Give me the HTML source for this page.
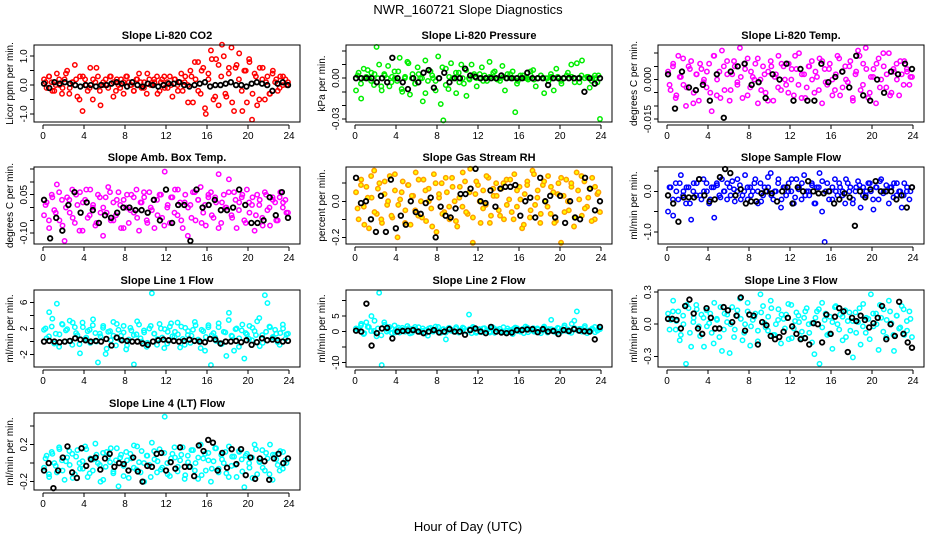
<!DOCTYPE html>
<html><head><meta charset="utf-8"><style>
html,body{margin:0;padding:0;background:#fff;}
svg{display:block;font-family:"Liberation Sans",sans-serif;}
</style></head><body>
<svg id="chart" width="936" height="540" viewBox="0 0 936 540" xmlns="http://www.w3.org/2000/svg">
<text x="468" y="14" text-anchor="middle" font-size="13">NWR_160721  Slope Diagnostics</text>
<text x="468" y="531" text-anchor="middle" font-size="13">Hour of Day (UTC)</text>
</svg>
<script>
const panelTitles=["Slope Li-820 CO2","Slope Li-820 Pressure","Slope Li-820 Temp.","Slope Amb. Box Temp.","Slope Gas Stream RH","Slope Sample Flow","Slope Line 1 Flow","Slope Line 2 Flow","Slope Line 3 Flow","Slope Line 4 (LT) Flow"];
const yTitles=["Licor ppm per min.","kPa per min.","degrees C per min.","degrees C per min.","percent per min.","ml/min per min.","ml/min per min.","ml/min per min.","ml/min per min.","ml/min per min."];
const xTicks=[0,4,8,12,16,20,24];
const co2=[0.2,-0.1,0.3,0.1,-0.2,0.4,0.0,-0.3,0.2,0.5,-0.1,0.1,0.7,-0.4,0.3,-0.9,0.2,-0.2,0.6,-0.5,0.1,0.3,-0.7,0.0,0.2,-0.1,0.3,0.1,-0.2,0.0,0.2,-0.3,0.3,0.1,0.0,-0.2,0.2,0.4,-0.1,0.1,-0.3,0.2,0.0,0.1,0.3,-0.2,0.2,-0.1,0.1,0.3,-0.4,0.2,0.0,0.1,-0.2,0.3,0.0,0.5,-0.6,0.2,0.8,-0.3,0.6,-1.0,0.4,1.2,-0.5,0.9,-0.7,0.3,1.0,-0.4,0.6,1.3,-0.9,0.7,1.1,-0.2,0.5,-0.6,0.8,-1.2,0.4,-0.7,0.6,0.2,-0.5,0.3,-0.3,0.4,0.1,-0.2,0.3,0.0,0.2,0.1];
const co2b=[0.1,0.3,-0.2,0.0,0.2,-0.1,0.4,-0.3,0.1,0.2,-0.5,0.3,0.0,-0.1,0.2,0.6,-0.2,0.1,0.0,0.3,-0.4,0.2,-0.1,0.1,0.3,0.0,-0.2,0.2,0.1,-0.1,0.4,0.0,0.2,-0.3,0.1,0.3,-0.1,0.0,0.2,-0.2,0.4,0.1,-0.6,0.3,0.8,-0.2,0.5,-0.8,0.2,0.9,-0.4,0.7,1.4,-0.3,0.4,-0.6,0.6,0.2,-0.9,0.5,0.9,-0.3,0.3,-0.5,0.6,0.1,-0.3,0.5,0.2,-0.1,0.3,0.0];
const co2Blk=[0.05,-0.1,0.1,0.05,0.1,0.05,0.0,-0.05,0.0,0.0,-0.05,0.0,0.0,0.05,0.1,0.05,-0.05,0.1,0.0,-0.05,0.05,0.0,-0.05,0.0,0.05,0.05,0.1,0.0,-0.05,0.0,0.05,0.1,-0.05,0.0,0.0,0.05,0.1,0.0,0.0,-0.05,0.05,0.1,0.05,0.0,-0.2,0.05,0.1,0.0];
const pres=[-0.009,0.004,-0.015,0.007,0.001,0.0,0.004,-0.005,0.023,0.01,-0.009,0.003,0.0,-0.006,0.001,0.005,-0.002,0.015,-0.01,0.0,0.012,-0.012,0.003,-0.004,0.008,0.0,-0.017,0.013,-0.002,0.005,0.0,-0.009,0.016,-0.019,-0.031,0.007,-0.008,0.011,0.0,-0.011,0.004,0.01,-0.004,-0.013,0.0,0.01,0.003,-0.006,0.0,0.008,0.002,-0.002,0.012,0.0,0.005,-0.001,0.0,0.009,-0.009,0.003,0.0,0.005,-0.025,-0.002,0.0,0.002,0.0,-0.001,0.002,0.006,-0.006,0.0,0.002,0.0,0.0,-0.002,0.001,-0.009,0.007,0.0,-0.004,0.0,0.002,0.0,0.001,0.0,0.011,-0.003,0.013,0.0,0.001,-0.007,0.0,0.002,-0.003,-0.03];
const presb=[0.002,-0.004,0.0,0.006,-0.002,0.003,0.0,-0.006,0.002,0.009,-0.003,0.0,0.005,-0.008,0.001,0.011,0.0,-0.004,0.003,0.0,-0.011,0.006,0.002,-0.002,0.0,0.008,-0.005,0.001,0.0,0.004,-0.003,0.0,0.006,-0.001,0.002,0.0,0.003,-0.002,0.0,0.001,0.004,0.0,-0.002,0.001,0.0,0.003,0.0,-0.004,0.002,0.0,0.0,0.005,-0.001,0.0,0.002,-0.011,0.0,0.003,0.0,0.001,-0.002,0.0,0.004,0.010,-0.003,0.0,0.002,0.0,0.001,-0.002,0.0,0.002];
const presBlk=[0.0,0.0,0.0,0.0,-0.003,0.0,-0.003,0.015,0.0,-0.003,-0.008,0.0,-0.003,0.004,0.006,-0.007,0.0,0.004,-0.003,0.0,0.0,0.007,0.002,0.001,0.0,0.0,0.0,0.0,0.002,0.0,0.0,0.0,0.0,0.004,0.0,0.0,0.0,-0.005,0.0,0.0,0.0,0.0,0.0,0.0,-0.01,0.0,-0.004,0.0];
const temp=[0.003,-0.004,0.006,-0.007,0.009,0.001,-0.002,-0.01,0.005,0.007,-0.005,0.002,-0.008,0.004,0.0,-0.003,0.006,-0.012,0.009,-0.006,0.003,0.011,-0.004,0.007,-0.008,0.002,0.005,-0.001,0.012,-0.007,0.004,0.008,-0.003,0.001,0.006,-0.009,0.0,0.005,-0.005,0.003,0.007,-0.008,0.002,0.009,-0.004,0.005,-0.002,0.006,0.0,-0.006,0.004,0.01,-0.007,0.002,-0.003,0.005,0.007,-0.005,0.001,0.008,-0.009,0.004,-0.002,0.006,0.0,-0.004,0.009,-0.006,0.003,0.005,-0.001,0.007,-0.008,0.002,0.011,-0.004,0.006,0.012,-0.007,0.001,0.004,-0.009,0.008,0.0,0.005,-0.003,0.01,-0.005,0.003,0.006,-0.006,0.002,0.007,0.004,-0.002,0.001];
const tempb=[-0.002,0.005,-0.006,0.001,0.008,-0.003,0.004,-0.009,0.002,0.006,-0.001,0.003,-0.005,0.009,0.0,-0.007,0.005,0.002,-0.004,0.007,-0.002,0.001,0.006,-0.006,0.003,0.0,0.008,-0.004,0.002,-0.008,0.005,0.001,-0.003,0.006,0.0,-0.005,0.004,0.009,-0.002,0.002,-0.007,0.005,0.0,0.003,-0.004,0.007,-0.001,0.004,-0.006,0.002,0.008,-0.003,0.0,0.005,-0.007,0.003,0.009,-0.002,0.004,-0.005,0.001,0.006,-0.003,0.010,0.002,-0.006,0.004,0.0,0.007,-0.002,0.003,0.001];
const tempBlk=[0.002,-0.011,0.003,-0.003,-0.004,-0.002,-0.008,0.002,-0.0145,0.003,0.005,0.006,-0.002,-0.001,-0.007,0.002,0.0,0.006,-0.008,0.004,-0.008,-0.008,0.006,-0.001,0.001,0.003,-0.003,0.009,-0.006,-0.008,0.0,-0.005,0.003,0.002,0.006,0.004];
const amb=[-0.03,0.02,-0.08,0.05,-0.01,0.09,-0.05,0.03,-0.13,0.04,-0.02,0.07,-0.06,0.01,0.06,-0.09,0.03,-0.04,0.07,0.0,-0.07,0.05,-0.02,-0.11,0.04,0.08,-0.05,0.02,-0.03,0.06,-0.08,0.03,0.0,-0.06,0.05,-0.02,0.07,-0.09,0.02,0.04,-0.05,0.06,-0.01,-0.08,0.03,0.05,-0.04,0.14,0.0,-0.06,0.04,0.07,-0.03,0.02,-0.08,0.05,-0.11,0.01,0.06,-0.05,0.03,0.08,-0.02,-0.07,0.04,0.06,-0.04,0.02,0.13,-0.06,0.05,0.0,0.11,-0.03,0.06,-0.08,0.02,0.04,-0.05,0.07,-0.02,0.01,-0.09,0.05,0.03,-0.04,0.06,-0.01,-0.07,0.04,0.02,-0.05,0.06,0.0,0.03,-0.02];
const ambb=[0.01,-0.05,0.04,-0.02,0.06,-0.07,0.0,0.03,-0.04,0.05,-0.09,0.02,0.07,-0.03,0.01,-0.06,0.04,0.0,-0.02,0.06,-0.05,0.03,0.01,-0.08,0.05,-0.01,0.04,-0.04,0.02,0.06,-0.06,0.0,0.03,-0.03,0.05,-0.07,0.01,0.04,-0.02,0.07,-0.05,0.02,0.0,-0.04,0.06,0.03,-0.06,0.01,0.05,-0.03,0.04,-0.08,0.02,0.0,0.06,-0.04,0.03,-0.01,0.05,-0.06,0.02,0.04,-0.03,0.01,-0.07,0.05,0.0,0.03,-0.05,0.04,0.02,-0.02];
const ambBlk=[0.03,-0.12,-0.04,-0.09,0.01,0.06,-0.02,0.02,-0.01,-0.06,-0.03,-0.04,-0.02,0.0,0.0,-0.01,-0.01,-0.02,0.03,-0.05,0.07,-0.06,0.01,0.01,-0.13,0.07,0.0,0.01,0.03,-0.01,-0.01,0.0,0.07,0.01,-0.06,-0.06,-0.05,0.04,-0.03,0.06,-0.04];
const rh=[0.05,-0.1,0.12,-0.03,0.08,-0.15,0.02,0.17,-0.07,0.1,-0.12,0.04,-0.02,0.14,-0.09,0.06,-0.2,0.01,0.11,-0.05,0.09,-0.13,0.03,0.16,-0.08,0.0,0.12,-0.11,0.07,-0.04,0.15,-0.17,0.02,0.1,-0.06,0.05,-0.1,0.13,0.0,-0.14,0.08,-0.03,0.11,-0.07,0.18,-0.23,0.04,0.09,-0.12,0.06,-0.02,0.13,-0.08,0.03,0.1,-0.05,0.07,-0.1,0.12,0.01,-0.06,0.15,-0.03,0.08,-0.15,0.04,0.11,-0.09,0.17,-0.02,0.06,-0.12,0.09,0.0,0.14,-0.07,0.05,-0.11,0.1,-0.23,0.03,0.12,-0.05,0.08,-0.14,0.16,0.01,-0.08,0.11,-0.03,0.07,0.13,-0.1,0.04,-0.06];
const rhb=[-0.04,0.09,-0.13,0.02,0.14,-0.06,0.07,-0.1,0.11,0.0,-0.08,0.15,-0.02,0.05,-0.12,0.09,0.03,-0.05,0.12,-0.09,0.06,0.0,-0.14,0.1,0.04,-0.07,0.13,-0.03,0.08,-0.11,0.02,0.16,-0.06,0.05,-0.09,0.11,0.0,-0.04,0.14,-0.12,0.07,0.03,-0.08,0.1,-0.02,0.12,-0.1,0.06,0.01,-0.13,0.09,-0.05,0.15,0.02,-0.07,0.11,-0.03,0.08,-0.12,0.04,0.13,-0.06,0.0,0.1,-0.09,0.06,0.14,-0.04,0.02,-0.11,0.08,0.05];
const rhBlk=[0.13,-0.01,0.0,-0.1,-0.17,0.03,-0.17,0.12,-0.15,-0.08,-0.13,0.0,-0.06,-0.07,-0.01,0.02,-0.2,-0.03,-0.08,-0.09,-0.04,0.04,0.04,0.07,0.18,0.0,-0.01,0.06,-0.03,0.07,0.08,0.08,0.09,-0.08,0.0,0.02,-0.09,0.13,0.0,0.03,-0.09,0.03,-0.12,0.0,-0.09,-0.1,0.13,0.07,-0.05,0.0];
const flow=[-0.5,0.1,-0.6,0.2,-0.2,0.4,0.0,-0.3,0.1,-0.7,0.2,-0.1,0.3,-0.2,0.0,0.2,-0.3,0.1,-0.65,0.2,-0.1,0.3,0.0,-0.2,0.1,0.25,-0.25,0.0,0.15,-0.1,0.4,-0.2,0.1,0.0,0.3,-0.3,0.2,-0.1,0.0,0.1,0.45,-0.2,0.0,0.3,-0.4,0.1,-0.1,0.2,0.0,-0.3,0.3,0.1,-0.2,0.4,0.0,-0.1,0.2,-0.3,0.1,0.45,-0.5,-1.25,0.2,0.0,-0.2,0.3,-0.1,0.1,0.0,-0.3,0.2,0.1,-0.2,0.0,0.25,-0.4,0.1,-0.1,0.2,0.0,-0.45,0.1,-0.2,0.3,0.0,0.15,-0.3,0.1,0.2,-0.1,0.0,-0.4,0.2,0.0,-0.2,0.1];
const flowb=[0.1,-0.2,0.0,0.2,-0.1,0.1,-0.3,0.0,0.2,-0.1,0.3,0.0,-0.2,0.1,0.15,-0.15,0.0,0.2,-0.1,0.05,0.3,-0.2,0.0,0.1,-0.1,0.2,0.0,-0.25,0.1,0.35,-0.1,0.0,0.2,-0.2,0.1,0.0,0.3,-0.15,0.05,0.2,-0.1,0.0,0.15,-0.3,0.1,0.25,0.0,-0.2,0.1,0.0,0.2,-0.1,0.3,0.0,-0.3,0.1,0.15,-0.1,0.0,0.2,-0.2,0.1,0.25,-0.05,0.0,0.1,-0.15,0.2,0.0,-0.1,0.1,0.0];
const flowBlk=[-0.1,-0.3,-0.75,-0.15,-0.15,-0.15,0.3,-0.1,-0.25,-0.2,0.35,0.55,0.45,-0.1,0.05,-0.3,-0.25,-0.25,-0.05,0.0,-0.05,-0.25,0.0,0.1,-0.3,0.1,0.0,0.25,0.0,-0.05,-0.05,0.0,-0.3,-0.2,-0.05,-0.15,-0.85,0.0,-0.15,0.05,0.25,0.0,0.0,0.0,-0.2,-0.1,-0.4,0.1];
const line1=[1.8,0.5,4.5,2.3,-0.3,5.8,1.1,2.7,0.0,1.9,3.2,-0.5,2.2,1.0,-1.8,2.9,0.4,1.6,-0.2,2.5,1.3,-3.2,0.8,2.1,-1.9,1.5,0.2,3.0,-0.6,1.8,0.9,2.4,-1.2,0.3,1.7,-3.5,1.1,2.6,0.0,1.4,-0.8,2.0,7.4,1.2,-0.5,2.7,0.6,1.9,-0.3,2.3,0.8,1.5,2.9,-0.9,0.4,2.1,1.0,-0.2,1.8,2.5,0.3,-1.0,1.6,0.7,2.2,-3.6,1.3,0.1,2.8,-0.4,1.5,-2.2,4.4,0.9,-1.4,2.0,0.5,1.7,-2.6,1.1,2.4,0.2,1.6,3.1,-0.7,1.0,7.1,5.9,2.2,0.6,1.8,-0.1,1.3,2.6,0.4,1.2];
const line1b=[2.0,0.8,3.5,1.2,-0.8,2.6,1.7,0.1,2.9,1.3,-0.4,2.2,0.6,1.8,3.4,0.0,1.2,2.4,-1.1,1.6,0.9,2.7,0.3,1.4,-0.6,2.1,1.0,3.1,0.5,1.7,-0.2,2.4,1.2,0.4,2.0,-1.0,1.5,2.8,0.7,1.1,2.3,-0.5,1.6,0.9,3.0,0.2,1.8,-1.4,2.5,1.0,0.6,2.2,-0.3,1.4,3.3,0.8,1.9,-0.8,2.6,1.3,0.4,2.1,1.0,3.6,-0.2,1.5,2.3,0.7,1.2,-0.5,2.0,1.1];
const line1Blk=[0.0,0.1,0.0,-0.1,0.0,0.1,0.5,0.3,0.2,0.0,0.1,0.0,0.4,-0.6,0.6,0.2,0.1,0.0,0.0,-0.3,-0.5,0.0,0.2,0.3,0.2,0.1,0.0,0.1,0.3,0.1,0.0,-0.1,0.4,0.3,-0.3,0.0,0.0,0.1,-0.1,0.2,-0.5,-0.1,0.5,0.2,0.3,0.2,0.0,0.1];
const line2=[1.0,0.5,2.5,-0.8,3.0,1.5,5.0,0.2,-1.5,12.5,-10.8,3.0,0.0,1.5,-0.5,2.0,0.8,-0.3,1.2,0.0,1.8,-0.6,0.9,1.5,0.3,-0.2,1.0,0.5,-1.3,1.2,0.0,0.7,1.5,-0.4,0.8,-2.5,1.1,0.3,0.0,1.4,-0.3,0.6,1.0,0.2,5.5,-0.5,1.2,0.0,0.8,-0.2,1.1,0.4,0.0,1.5,-0.4,0.6,0.9,0.1,-0.3,1.0,0.5,-0.8,1.3,0.2,0.0,0.9,1.6,-0.2,0.5,1.1,0.0,0.7,-0.5,1.2,0.3,0.8,3.8,0.0,-0.3,1.0,0.6,1.4,0.2,-0.1,2.5,3.5,6.5,0.9,0.0,1.2,-0.5,0.4,1.0,1.5,0.3,0.8];
const line2b=[0.8,2.0,-0.5,1.5,0.2,3.5,1.0,-1.2,2.2,0.5,1.0,-0.3,1.3,0.6,0.0,1.1,-0.4,0.8,1.4,0.2,-0.6,1.0,0.4,1.6,0.0,0.7,-0.3,1.2,0.5,0.9,-0.2,1.3,0.1,0.8,1.5,-0.4,0.6,1.0,0.2,-0.3,1.2,0.7,0.0,1.4,0.3,-0.2,0.9,1.1,0.4,-0.5,1.3,0.6,0.0,1.0,0.3,1.6,-0.3,0.8,0.5,1.2,0.0,2.0,0.7,-0.4,1.1,0.3,0.9,1.8,0.2,0.6,-0.2,1.0];
const line2Blk=[0.3,0.0,9.0,-4.5,-0.5,1.0,1.2,-2.2,0.0,0.2,0.3,0.5,0.0,-0.5,0.0,0.5,-0.3,0.0,0.8,0.0,0.0,-1.0,0.5,1.0,0.0,-0.5,1.5,0.0,-0.3,-0.5,-0.3,0.5,0.5,0.7,0.8,-0.2,0.8,0.0,0.2,-0.8,0.5,0.2,0.8,0.3,0.1,0.0,-2.5,1.5];
const line3=[0.1,0.04,0.22,-0.05,0.12,-0.1,0.0,-0.37,0.15,-0.21,0.06,0.18,-0.02,0.09,-0.21,0.13,0.01,-0.08,0.2,0.05,-0.12,-0.25,0.1,0.02,-0.27,0.16,-0.05,0.08,0.24,-0.15,0.0,0.12,-0.2,0.04,0.1,-0.06,0.28,0.17,-0.03,0.07,0.22,-0.1,0.0,0.14,-0.18,0.05,0.09,-0.14,0.18,-0.04,0.11,0.02,-0.13,0.06,0.15,-0.08,0.01,-0.28,0.12,-0.37,0.2,0.04,-0.1,0.07,-0.23,0.16,0.0,0.09,-0.15,0.13,0.03,-0.06,-0.31,0.11,0.02,-0.19,0.19,-0.08,0.05,0.28,-0.02,0.1,-0.24,0.06,0.14,-0.12,0.22,0.01,-0.25,0.08,-0.04,0.17,-0.1,0.03,0.12,-0.12];
const line3b=[-0.05,0.12,0.03,-0.15,0.08,0.18,-0.08,0.02,0.14,-0.11,0.06,-0.02,0.1,-0.18,0.04,0.16,-0.05,0.09,0.0,-0.12,0.13,0.05,-0.08,0.2,-0.02,0.07,-0.16,0.11,0.01,-0.06,0.15,-0.1,0.04,0.09,-0.04,0.19,-0.13,0.03,0.08,-0.07,0.12,0.0,-0.17,0.06,0.14,-0.03,0.1,-0.09,0.02,0.17,-0.05,0.07,-0.12,0.11,0.03,-0.08,0.15,-0.02,0.06,-0.14,0.1,0.0,0.18,-0.07,0.04,0.12,-0.1,0.08,-0.03,0.14,-0.06,0.05];
const line3Blk=[0.05,0.05,0.04,-0.04,0.17,0.23,0.1,-0.04,-0.09,0.15,0.06,-0.04,-0.04,0.16,0.13,0.02,0.08,0.25,-0.06,0.09,0.08,-0.19,0.02,-0.01,-0.11,-0.14,-0.12,-0.07,0.06,-0.02,-0.09,-0.14,-0.13,-0.19,0.01,0.0,-0.17,0.09,-0.09,0.07,0.15,0.12,-0.26,0.06,0.03,0.08,0.04,-0.03,0.01,0.06,0.17,-0.14,0.0,-0.11,0.21,-0.09,-0.17,-0.22];
const line4=[-0.05,0.08,-0.15,0.12,0.0,-0.1,0.15,0.03,-0.18,0.06,-0.02,0.1,-0.12,0.14,-0.06,0.02,0.18,-0.15,0.05,-0.08,0.21,0.0,-0.2,0.11,-0.04,0.07,0.16,-0.11,0.03,-0.25,0.09,-0.03,0.12,-0.16,0.05,0.19,-0.07,0.01,0.13,-0.2,0.08,-0.02,0.22,0.04,-0.1,0.15,-0.05,0.5,0.0,-0.14,0.1,0.06,-0.09,0.03,0.17,-0.13,0.08,-0.04,0.14,0.0,-0.17,0.2,0.05,-0.08,0.11,-0.2,0.02,0.16,-0.06,0.09,0.0,-0.11,0.18,-0.03,0.07,-0.15,0.12,0.04,-0.26,0.1,-0.05,0.06,0.2,-0.12,0.01,0.14,-0.08,0.05,0.2,-0.18,0.09,-0.02,0.13,-0.06,0.03,0.05];
const line4b=[0.05,-0.12,0.1,-0.03,0.17,-0.08,0.02,0.13,-0.16,0.07,0.0,-0.06,0.15,-0.11,0.04,0.09,-0.02,-0.18,0.12,0.01,-0.09,0.16,0.06,-0.14,0.03,0.1,-0.05,0.18,-0.1,0.0,0.08,-0.15,0.13,0.02,-0.07,0.11,-0.12,0.05,0.17,-0.04,0.09,-0.17,0.01,0.14,-0.08,0.06,-0.13,0.1,0.03,-0.06,0.16,-0.1,0.04,0.12,-0.15,0.07,-0.02,0.13,-0.09,0.08,0.0,-0.16,0.15,0.02,-0.05,0.11,-0.12,0.09,0.04,-0.08,0.12,0.0];
const line4Blk=[-0.08,0.0,-0.27,-0.08,0.06,0.18,-0.1,-0.16,0.16,-0.03,0.04,0.06,-0.07,0.05,0.1,-0.04,0.0,-0.01,-0.08,0.06,-0.09,-0.2,-0.03,-0.04,0.1,0.11,-0.08,0.01,-0.06,0.17,-0.04,-0.04,-0.14,0.19,0.13,0.25,0.22,-0.08,0.11,-0.05,0.15,-0.01,0.15,-0.13,0.06,-0.17,0.05,0.02,-0.18,0.05,0.1,0.0,0.05];
const seriesColor=[co2,pres,temp,amb,rh,flow,line1,line2,line3,line4];
const seriesColor2=[co2b,presb,tempb,ambb,rhb,flowb,line1b,line2b,line3b,line4b];
const seriesBlack=[co2Blk,presBlk,tempBlk,ambBlk,rhBlk,flowBlk,line1Blk,line2Blk,line3Blk,line4Blk];
const yTickVals=[[1,0.5,0,-0.5,-1],[0.02,0.01,0,-0.01,-0.02,-0.03],[0.01,0.005,0,-0.005,-0.01,-0.015],[0.15,0.1,0.05,0,-0.05,-0.1],[0.1,0,-0.1,-0.2],[0.5,0,-0.5,-1],[6,4,2,0,-2],[10,5,0,-5,-10],[0.3,0,-0.3],[0.4,0.2,0,-0.2]];
const yTickLabels=[["1.0","","0.0","","-1.0"],["","","0.00","","","-0.03"],["","","0.000","","","-0.015"],["","","0.05","","","-0.10"],["","0.0","","-0.2"],["","0.0","","-1.0"],["6","","2","","-2"],["","5","0","","-10"],["0.3","0.0","-0.3"],["","0.2","","-0.2"]];
const yLims=[[-1.28,1.39],[-0.0322,0.0244],[-0.0161,0.0131],[-0.142,0.158],[-0.237,0.19],[-1.3,0.6],[-3.9,7.9],[-11.4,13.4],[-0.4,0.32],[-0.29,0.54]];

const NS="http://www.w3.org/2000/svg";
const svg=document.getElementById('chart');
const colLeft=[34,346,658], rowTop=[45,167,290,413], W=266, H=77;
const colors=['#ff0000','#00ee00','#ff00ff','#ff00ff','#ffa000','#0000ff','#00ffff','#00ffff','#00ffff','#00ffff'];
function mk(tag,attrs,parent){const e=document.createElementNS(NS,tag);for(const k in attrs)e.setAttribute(k,attrs[k]);(parent||svg).appendChild(e);return e;}
function timeOf(i,n){return 0.1+i*23.8/(n-1);}
function timeOf2(i,n){return 0.25+i*23.5/(n-1);}
for(let p=0;p<10;p++){
  const L=colLeft[p%3], T=rowTop[Math.floor(p/3)];
  const g=mk('g',{});
  
  
  const xs=h=>L+9+h*10.25;
  const [y0,y1]=yLims[p];
  const ys=v=>T+H-(v-y0)/(y1-y0)*H;
  const t=mk('text',{x:L+W/2,y:T-6,'text-anchor':'middle','font-size':11,'font-weight':'bold'},g);
  t.textContent=panelTitles[p];
  
  
  const yt=mk('text',{x:0,y:0,'text-anchor':'middle','font-size':10,transform:`translate(${L-21},${T+H/2}) rotate(-90)`},g);
  yt.textContent=yTitles[p];
  
  
  const xa=mk('g',{stroke:'#000','stroke-width':1,'shape-rendering':'crispEdges'},g);
  
  
  mk('line',{x1:xs(0),x2:xs(24),y1:T+H+3,y2:T+H+3},xa);
  xTicks.forEach(v=>{
    mk('line',{x1:xs(v),x2:xs(v),y1:T+H+3,y2:T+H+7},xa);
    const lb=mk('text',{x:xs(v),y:T+H+17,'text-anchor':'middle','font-size':10,stroke:'none'},g);
    lb.textContent=v;
    
    
  });
  const ya=mk('g',{stroke:'#000','stroke-width':1,'shape-rendering':'crispEdges'},g);
  
  
  const tv=yTickVals[p];
  tv.forEach((v,k)=>{
    mk('line',{x1:L-4,x2:L,y1:ys(v),y2:ys(v)},ya);
    if(yTickLabels[p][k]){
      const lb=mk('text',{x:0,y:0,'text-anchor':'middle','font-size':10,transform:`translate(${L-7},${ys(v)}) rotate(-90)`},g);
      lb.textContent=yTickLabels[p][k];
      
      
    }
  });
  const pc=mk('g',{fill:'none',stroke:colors[p],'stroke-width':1.5},g);
  
  
  const sc=seriesColor[p], sc2=seriesColor2[p];
  sc.forEach((v,i)=>{
    const c=mk('circle',{cx:xs(timeOf(i,sc.length)),cy:ys(v),r:2.2},pc);
    if(p===4){c.setAttribute('fill','#ffff00');}
    
    
  });
  sc2.forEach((v,i)=>{
    const c=mk('circle',{cx:xs(timeOf2(i,sc2.length)),cy:ys(v),r:2.2},pc);
    if(p===4){c.setAttribute('fill','#ffff00');}
    
    
  });
  const pb=mk('g',{fill:'none',stroke:'#000','stroke-width':1.8},g);
  
  
  const sb=seriesBlack[p];
  sb.forEach((v,i)=>{
    const c=mk('circle',{cx:xs(timeOf(i,sb.length)),cy:ys(v),r:2.3},pb);
    
    
  });
  const box=mk('rect',{x:L,y:T,width:W,height:H,fill:'none',stroke:'#000','stroke-width':1,'shape-rendering':'crispEdges'},g);
  
  
}
</script>
</body></html>
